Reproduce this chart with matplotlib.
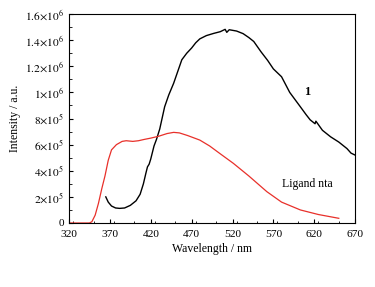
import matplotlib
matplotlib.use('Agg')
import matplotlib.pyplot as plt
from matplotlib.ticker import MultipleLocator, FixedLocator

plt.rcParams['font.family'] = ['Liberation Serif', 'DejaVu Serif']
plt.rcParams['mathtext.fontset'] = 'stix'

# complex 1 emission
wl_1 = [365, 368, 372, 377, 382, 388, 395, 402, 407, 411, 414, 416, 418, 420,
        424, 427, 431, 437, 442, 448, 453, 458, 464, 470, 475, 480, 488, 497,
        505, 511, 513, 516, 525, 533, 540, 546, 555, 563, 570, 580, 590, 603,
        610, 615, 621, 622, 630, 640, 650, 660, 665, 670]
int_1 = [2.0e5, 1.6e5, 1.3e5, 1.15e5, 1.12e5, 1.15e5, 1.35e5, 1.7e5, 2.2e5,
         3.0e5, 3.8e5, 4.3e5, 4.5e5, 4.9e5, 5.9e5, 6.4e5, 7.2e5, 8.9e5, 9.8e5,
         1.07e6, 1.16e6, 1.25e6, 1.30e6, 1.34e6, 1.38e6, 1.41e6, 1.435e6,
         1.452e6, 1.465e6, 1.483e6, 1.46e6, 1.48e6, 1.47e6, 1.45e6, 1.42e6,
         1.39e6, 1.31e6, 1.245e6, 1.18e6, 1.12e6, 1.0e6, 8.9e5, 8.3e5, 7.9e5,
         7.6e5, 7.8e5, 7.1e5, 6.6e5, 6.2e5, 5.7e5, 5.35e5, 5.2e5]

# ligand nta emission
wl_L = [320, 345, 348, 352, 356, 360, 364, 368, 372, 378, 385, 390, 398, 405,
        412, 420, 430, 440, 448, 455, 465, 480, 492, 505, 521, 540, 562, 580,
        603, 625, 650]
int_L = [0, 0, 0.1e5, 0.6e5, 1.5e5, 2.6e5, 3.6e5, 4.8e5, 5.6e5, 6.0e5, 6.25e5,
         6.3e5, 6.25e5, 6.3e5, 6.4e5, 6.5e5, 6.65e5, 6.85e5, 6.94e5, 6.9e5,
         6.7e5, 6.35e5, 5.9e5, 5.3e5, 4.57e5, 3.6e5, 2.4e5, 1.6e5, 1.0e5,
         6.5e4, 3.6e4]

y_ticks = [0, 2e5, 4e5, 6e5, 8e5, 1e6, 1.2e6, 1.4e6, 1.6e6]
y_labels = ['0', r'$2{\times}10^5$', r'$4{\times}10^5$', r'$6{\times}10^5$',
            r'$8{\times}10^5$', r'$1{\times}10^6$', r'$1.2{\times}10^6$',
            r'$1.4{\times}10^6$', r'$1.6{\times}10^6$']

fig = plt.figure(figsize=(3.75, 2.87), dpi=100)
ax = fig.add_axes([0.184, 0.223, 0.763, 0.728])

ax.plot(wl_1, int_1, color='black', lw=1.0)
ax.plot(wl_L, int_L, color='#e8302a', lw=0.9)

ax.set_xlim(320, 670)
ax.set_ylim(0, 1.6e6)
ax.set_xticks(range(320, 671, 50))
ax.xaxis.set_minor_locator(MultipleLocator(25))
ax.yaxis.set_major_locator(FixedLocator(y_ticks))
ax.set_yticklabels(y_labels)
ax.yaxis.set_minor_locator(MultipleLocator(1e5))
ax.tick_params(direction='in', labelsize=8.2, length=3, width=0.8)
ax.tick_params(axis='x', pad=5)
ax.tick_params(which='minor', direction='in', length=1.8, width=0.6)

ax.text(611, 1.0e6, '1', fontsize=9, fontweight='bold', ha='center', va='center')
ax.text(611, 3.0e5, 'Ligand nta', fontsize=8.5, ha='center', va='center')

ax.set_xlabel('Wavelength / nm', fontsize=8.5, labelpad=3)
ax.set_ylabel('Intensity / a.u.', fontsize=8.5, labelpad=3)

fig.savefig('out.png', dpi=100)
